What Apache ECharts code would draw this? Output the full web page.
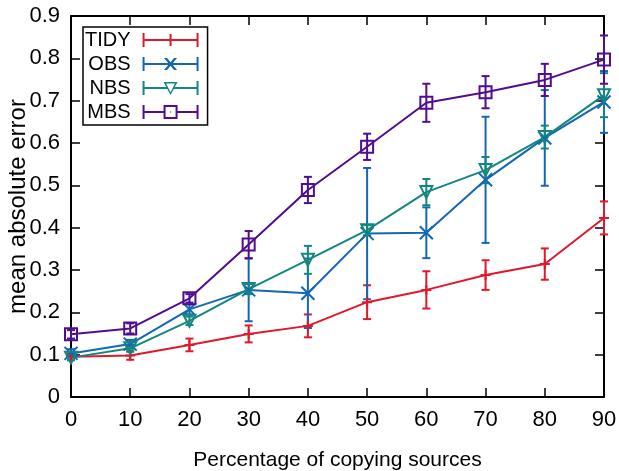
<!DOCTYPE html>
<html>
<head>
<meta charset="utf-8">
<script src="https://cdn.jsdelivr.net/npm/echarts@6/dist/echarts.min.js"></script>
<style>
html, body { margin: 0; padding: 0; background: #fff; }
#chart { width: 619px; height: 471px; }
</style>
</head>
<body>
<div id="chart"></div>
<script>
// percentage of copying sources
var xValues = [0, 10, 20, 30, 40, 50, 60, 70, 80, 90];

// mean absolute error and error-bar half widths
var tidyMean = [0.095, 0.098, 0.123, 0.149, 0.168, 0.224, 0.253, 0.288, 0.314, 0.423];
var tidyErr  = [0.008, 0.010, 0.015, 0.020, 0.027, 0.040, 0.044, 0.035, 0.037, 0.039];
var obsMean  = [0.103, 0.125, 0.207, 0.253, 0.245, 0.386, 0.388, 0.513, 0.612, 0.697];
var obsErr   = [0.010, 0.010, 0.012, 0.074, 0.082, 0.155, 0.060, 0.149, 0.113, 0.073];
var nbsMean  = [0.093, 0.115, 0.180, 0.255, 0.324, 0.394, 0.484, 0.536, 0.614, 0.713];
var nbsErr   = [0.006, 0.008, 0.010, 0.012, 0.033, 0.012, 0.031, 0.031, 0.027, 0.052];
var mbsMean  = [0.148, 0.162, 0.233, 0.360, 0.489, 0.591, 0.695, 0.720, 0.749, 0.797];
var mbsErr   = [0.010, 0.012, 0.010, 0.032, 0.031, 0.031, 0.045, 0.038, 0.038, 0.057];

var yTicks = [0, 0.1, 0.2, 0.3, 0.4, 0.5, 0.6, 0.7, 0.8, 0.9];

var font = "'Liberation Sans', Arial, sans-serif";

var RED = '#e0182a', BLUE = '#1467b2', TEAL = '#13877f', PURPLE = '#520c8e';

// legend icons: error bar with caps + marker, 56x14
var lineFull = 'M0,6H56V8H0Z M0,0H2V14H0Z M54,0H56V14H54Z ';
var iconTidy = 'path://' + lineFull + 'M27,1H29V13H27Z';
var iconObs = 'path://' + lineFull + 'M21.5,1L24.5,1L34.5,13L31.5,13Z M31.5,1L34.5,1L24.5,13L21.5,13Z';
var iconNbs = 'path://M0,6H25V8H0Z M31,6H56V8H31Z M0,0H2V14H0Z M54,0H56V14H54Z ' +
  'M21,1L35,1L28,14Z M23.6,2.6L28,11.2L32.4,2.6Z';
var iconMbs = 'path://M0,6H22V8H0Z M34,6H56V8H34Z M0,0H2V14H0Z M54,0H56V14H54Z ' +
  'M21,0H35V14H21Z M23,2V12H33V2Z M27.4,6.4H28.6V7.6H27.4Z';

function errorBars(name, mean, err, color) {
  return {
    name: name,
    type: 'custom',
    silent: true,
    data: xValues.map(function (x, i) { return [x, mean[i] - err[i], mean[i] + err[i]]; }),
    encode: { x: 0, y: [1, 2] },
    renderItem: function (params, api) {
      var lo = api.coord([api.value(0), api.value(1)]);
      var hi = api.coord([api.value(0), api.value(2)]);
      var w = 4;
      var st = { stroke: color, lineWidth: 2 };
      return {
        type: 'group',
        children: [
          { type: 'line', shape: { x1: lo[0], y1: lo[1], x2: hi[0], y2: hi[1] }, style: st },
          { type: 'line', shape: { x1: lo[0] - w, y1: lo[1], x2: lo[0] + w, y2: lo[1] }, style: st },
          { type: 'line', shape: { x1: hi[0] - w, y1: hi[1], x2: hi[0] + w, y2: hi[1] }, style: st }
        ]
      };
    }
  };
}

function meanLine(name, mean, color, symbol, size, rotate) {
  return {
    name: name,
    type: 'line',
    data: xValues.map(function (x, i) { return [x, mean[i]]; }),
    symbol: symbol,
    symbolSize: size,
    symbolRotate: rotate || 0,
    showAllSymbol: true,
    lineStyle: { color: color, width: 2 },
    itemStyle: { color: 'transparent', borderColor: color, borderWidth: 2 }
  };
}

var axisLineStyle = { show: true, onZero: false, lineStyle: { color: '#000', width: 2 } };
var tickStyle = { show: true, inside: true, length: 9, lineStyle: { color: '#000', width: 1.5 } };

var chart = echarts.init(document.getElementById('chart'));
var option = {
  animation: false,
  backgroundColor: '#fff',
  grid: { left: 71, right: 15, top: 16, bottom: 74, outerBoundsMode: 'none', containLabel: false },
  legend: {
    left: 83,
    top: 27,
    orient: 'vertical',
    align: 'right',
    selectedMode: false,
    itemWidth: 56,
    itemHeight: 14,
    itemGap: 4,
    padding: [3, 9, 3, 2],
    borderColor: '#000',
    borderWidth: 1.5,
    textStyle: { fontSize: 20, fontFamily: font, color: '#000', lineHeight: 20, padding: [0, 7, 0, 0] },
    data: [
      { name: 'TIDY', icon: iconTidy, itemStyle: { color: RED, borderWidth: 0 } },
      { name: 'OBS', icon: iconObs, itemStyle: { color: BLUE, borderWidth: 0 } },
      { name: 'NBS', icon: iconNbs, itemStyle: { color: TEAL, borderWidth: 0 } },
      { name: 'MBS', icon: iconMbs, itemStyle: { color: PURPLE, borderWidth: 0 } }
    ]
  },
  xAxis: [{
    type: 'value',
    min: 0, max: 90, interval: 10,
    axisLine: axisLineStyle,
    axisTick: tickStyle,
    splitLine: { show: false },
    axisLabel: { fontSize: 22, fontFamily: font, color: '#000', margin: 12 },
    name: 'Percentage of copying sources',
    nameLocation: 'middle',
    nameGap: 53,
    nameMoveOverlap: false,
    nameTextStyle: { fontSize: 21, fontFamily: font, color: '#000' }
  }, {
    type: 'value',
    position: 'top',
    min: 0, max: 90, interval: 10,
    axisLine: axisLineStyle,
    axisTick: tickStyle,
    splitLine: { show: false },
    axisLabel: { show: false }
  }],
  yAxis: [{
    type: 'value',
    min: 0, max: 0.9, interval: 0.1,
    axisLine: axisLineStyle,
    axisTick: tickStyle,
    splitLine: { show: false },
    axisLabel: {
      fontSize: 22, fontFamily: font, color: '#000', margin: 11,
      formatter: function (v) {
        var t = yTicks.filter(function (k) { return Math.abs(k - v) < 1e-6; })[0];
        return t === 0 ? '0' : t.toFixed(1);
      }
    },
    name: 'mean absolute error',
    nameLocation: 'middle',
    nameGap: 41,
    nameMoveOverlap: false,
    nameTextStyle: { fontSize: 24, fontFamily: font, color: '#000' }
  }, {
    type: 'value',
    position: 'right',
    min: 0, max: 0.9, interval: 0.1,
    axisLine: axisLineStyle,
    axisTick: tickStyle,
    splitLine: { show: false },
    axisLabel: { show: false }
  }],
  series: [
    errorBars('TIDY', tidyMean, tidyErr, RED),
    meanLine('TIDY', tidyMean, RED, 'path://M0,5L10,5M5,0L5,10', 10),
    errorBars('OBS', obsMean, obsErr, BLUE),
    meanLine('OBS', obsMean, BLUE, 'path://M0,0L12,12M12,0L0,12', 13),
    errorBars('NBS', nbsMean, nbsErr, TEAL),
    meanLine('NBS', nbsMean, TEAL, 'triangle', 12, 180),
    errorBars('MBS', mbsMean, mbsErr, PURPLE),
    meanLine('MBS', mbsMean, PURPLE, 'rect', 12)
  ]
};
chart.setOption(option);
</script>
</body>
</html>
